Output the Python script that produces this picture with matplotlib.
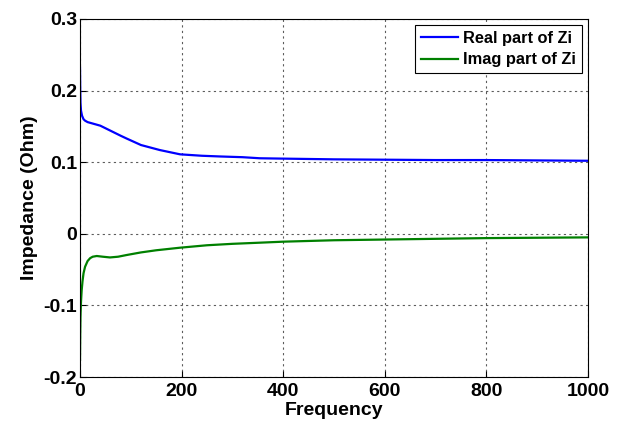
import matplotlib
matplotlib.use("Agg")
import matplotlib.pyplot as plt

freq_real = [0, 0.5, 1, 2, 4, 7, 10, 15, 20, 30, 40, 60, 80, 92, 120, 157, 197, 240, 276, 320, 354, 400, 450, 500, 600, 700, 800, 900, 1000]
real_zi = [0.232, 0.20, 0.182, 0.172, 0.165, 0.160, 0.158, 0.156, 0.155, 0.153, 0.151, 0.144, 0.137, 0.133, 0.124, 0.117, 0.111, 0.109, 0.108, 0.107, 0.1055, 0.105, 0.1045, 0.104, 0.1035, 0.103, 0.103, 0.1025, 0.102]

freq_imag = [0, 0.5, 1, 2, 3.3, 5, 7, 10, 15, 20, 25, 33, 45, 59, 75, 92, 120, 150, 197, 250, 300, 354, 400, 500, 600, 700, 800, 900, 1000]
imag_zi = [-0.176, -0.14, -0.115, -0.095, -0.079, -0.066, -0.055, -0.046, -0.038, -0.034, -0.032, -0.031, -0.032, -0.033, -0.032, -0.0296, -0.026, -0.023, -0.0194, -0.016, -0.014, -0.0124, -0.011, -0.009, -0.008, -0.007, -0.006, -0.0055, -0.005]

xticks = [0, 200, 400, 600, 800, 1000]
yticks = [-0.2, -0.1, 0, 0.1, 0.2, 0.3]
yticklabels = ["-0.2", "-0.1", "0", "0.1", "0.2", "0.3"]

plt.rcParams['font.family'] = ['Liberation Sans', 'DejaVu Sans']
plt.rcParams['font.weight'] = 'bold'

fig = plt.figure(figsize=(6.22, 4.26), dpi=100)
ax = fig.add_axes([0.1286, 0.115, 0.8167, 0.8404])

ax.plot(freq_real, real_zi, color='#0000ff', lw=1.6, label='Real part of Zi')
ax.plot(freq_imag, imag_zi, color='#008000', lw=1.6, label='Imag part of Zi')

ax.set_xlim(0, 1000)
ax.set_ylim(-0.2, 0.3)
ax.set_xticks(xticks)
ax.set_xticklabels([str(t) for t in xticks])
ax.set_yticks(yticks)
ax.set_yticklabels(yticklabels)
ax.tick_params(direction='in', length=4, labelsize=14, width=0.8)
ax.tick_params(axis='y', pad=2)
ax.tick_params(axis='x', pad=4)
for lab in ax.get_xticklabels() + ax.get_yticklabels():
    lab.set_fontweight('bold')

ax.grid(True, color='#333333', linestyle=(0, (2, 3)), linewidth=0.8, alpha=0.8)
ax.set_xlabel('Frequency', fontsize=14, fontweight='bold', labelpad=2)
ax.set_ylabel('Impedance (Ohm)', fontsize=14, fontweight='bold', labelpad=4)

leg = ax.legend(loc='upper right', fontsize=11.8, frameon=True, fancybox=False,
                edgecolor='black', framealpha=1, handlelength=2.3,
                handletextpad=0.3, borderaxespad=0.37, labelspacing=0.4,
                borderpad=0.35)
leg.get_frame().set_linewidth(0.8)
for t in leg.get_texts():
    t.set_fontweight('bold')

for s in ax.spines.values():
    s.set_linewidth(0.8)

fig.savefig('out.png', dpi=100)
